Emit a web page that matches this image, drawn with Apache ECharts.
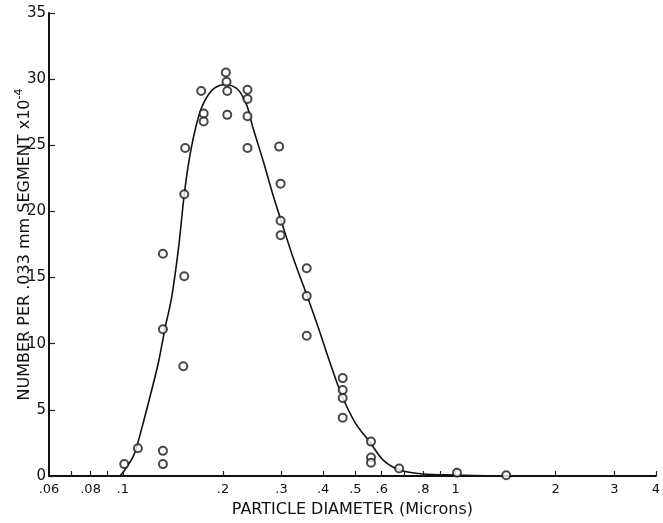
<!DOCTYPE html>
<html>
<head>
<meta charset="utf-8">
<script src="https://cdn.jsdelivr.net/npm/echarts@6/dist/echarts.min.js"></script>
<style>
html,body{margin:0;padding:0;background:#fff;}
#chart{width:663px;height:523px;}
</style>
</head>
<body>
<div id="chart"></div>
<script>
// Observed points: particle diameter (microns) and count
var pointDiameters = [0.204,0.205,0.206,0.172,0.237,0.237,0.175,0.175,0.206,0.237,0.154,0.237,0.295,0.298,0.153,0.298,0.298,0.132,0.153,0.357,0.357,0.357,0.132,0.152,0.458,0.458,0.458,0.458,0.111,0.132,0.132,0.101,0.557,0.557,0.557,0.677,1.01,1.42];
var pointCounts    = [30.5,29.8,29.1,29.1,29.2,28.5,27.4,26.8,27.3,27.2,24.8,24.8,24.9,22.1,21.3,19.3,18.2,16.8,15.1,15.7,13.6,10.6,11.1,8.3,7.4,6.5,5.9,4.4,2.1,1.9,0.9,0.9,2.6,1.4,1.0,0.57,0.25,0.05];

// Fitted curve
var curveDiameters = [0.098,0.101,0.108,0.114,0.121,0.128,0.134,0.140,0.147,0.153,0.159,0.167,0.175,0.188,0.205,0.222,0.236,0.245,0.265,0.283,0.300,0.326,0.357,0.387,0.419,0.455,0.500,0.555,0.606,0.680,0.800,1.000,1.260,1.500];
var curveCounts    = [0,0.4,1.6,3.6,6.1,8.6,11.2,13.4,17.2,21.3,24.2,26.7,28.2,29.3,29.6,29.2,28.0,26.5,23.7,21.2,19.2,16.4,13.7,11.2,8.6,6.1,4.0,2.5,1.2,0.45,0.15,0.07,0.02,0];

// Axis ticks and labels
var xLabelValues = [0.06,0.08,0.1,0.2,0.3,0.4,0.5,0.6,0.8,1,2,3,4];
var xLabelTexts  = ['.06','.08','.1','.2','.3','.4','.5','.6','.8','1','2','3','4'];
var xTickValues  = [0.07,0.08,0.09,0.1,0.2,0.3,0.4,0.5,0.6,0.7,0.8,0.9,1,2,3,4];
var yTickValues  = [0,5,10,15,20,25,30,35];

var scatterData = pointDiameters.map(function(d,i){return [d,pointCounts[i]];});
var curveData = curveDiameters.map(function(d,i){return [d,curveCounts[i]];});

var chart = echarts.init(document.getElementById('chart'), null, {renderer:'canvas'});
var font = 'DejaVu Sans';
chart.setOption({
  animation:false,
  backgroundColor:'#ffffff',
  grid:{left:49,right:6,top:13,bottom:45,containLabel:false},
  xAxis:{
    type:'log', logBase:10, min:0.06, max:4,
    name:'PARTICLE DIAMETER (Microns)', nameLocation:'middle', nameGap:26, nameMoveOverlap:false,
    nameTextStyle:{fontFamily:font,fontSize:16,color:'#111'},
    axisLine:{onZero:false,lineStyle:{color:'#111',width:2}},
    axisTick:{inside:true,length:5,customValues:xTickValues,lineStyle:{color:'#222',width:1.2}},
    axisLabel:{customValues:xLabelValues,fontFamily:font,fontSize:13,color:'#111',margin:7,
      formatter:function(v){var i=xLabelValues.indexOf(v);return i>=0?xLabelTexts[i]:'';}},
    splitLine:{show:false},minorTick:{show:false}
  },
  yAxis:{
    type:'value', min:0, max:35, interval:5,
    name:'NUMBER PER .033 mm SEGMENT x10{sup|-4}', nameLocation:'middle', nameGap:14, nameMoveOverlap:false,
    nameTextStyle:{fontFamily:font,fontSize:16,color:'#111',
      rich:{sup:{fontFamily:font,fontSize:11,color:'#111',verticalAlign:'bottom',padding:[0,0,10,0]}}},
    axisLine:{show:true,lineStyle:{color:'#111',width:2}},
    axisTick:{inside:true,length:6,customValues:yTickValues,lineStyle:{color:'#222',width:1.2}},
    axisLabel:{fontFamily:font,fontSize:15,color:'#111',margin:3},
    splitLine:{show:false}
  },
  series:[
    {type:'line',data:curveData,smooth:0.3,showSymbol:false,symbol:'none',
     lineStyle:{color:'#111',width:1.6},z:2},
    {type:'scatter',data:scatterData,symbol:'emptyCircle',symbolSize:8,
     itemStyle:{color:'#1a1a1a',borderColor:'#1a1a1a',borderWidth:1.1},z:3}
  ]
});
</script>
</body>
</html>
